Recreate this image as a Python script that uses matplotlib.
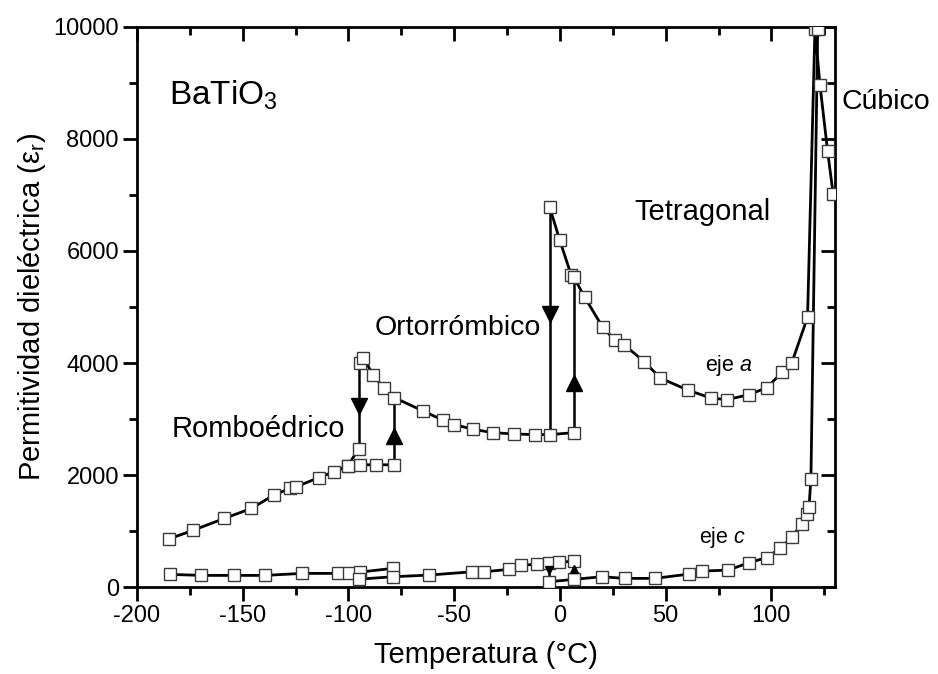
import matplotlib
matplotlib.use("Agg")
import matplotlib.pyplot as plt
from matplotlib.ticker import MultipleLocator
from matplotlib import markers as mmarkers

plt.rcParams['font.family'] = ['Liberation Sans', 'DejaVu Sans']
plt.rcParams['mathtext.fontset'] = 'custom'
plt.rcParams['mathtext.rm'] = 'Liberation Sans'
plt.rcParams['mathtext.it'] = 'Liberation Sans:italic'
plt.rcParams['axes.unicode_minus'] = False

# ---- eje a ----
# rhombohedral phase, heating branch (ends at the R -> O jump)
a_rh_T = [-184.8, -173.7, -158.8, -145.9, -135.4, -127.8, -124.7, -114.0, -107.0,
          -100.3, -94.5, -86.9, -78.3]
a_rh_e = [860, 1010, 1224, 1403, 1640, 1760, 1790, 1955, 2055, 2162, 2183, 2183, 2183]
# rhombohedral phase, cooling end
a_rc_T = [-100.3, -95.1]
a_rc_e = [2162, 2472]
# orthorhombic phase
a_or_T = [-94.5, -92.9, -88.2, -83.3, -78.3, -64.6, -55.2, -50.0, -40.9, -31.7,
          -21.6, -11.8, -4.6, 6.6]
a_or_e = [4000, 4094, 3779, 3553, 3381, 3143, 2977, 2900, 2816, 2757, 2733, 2722,
          2722, 2757]
# tetragonal + cubic phases
a_te_T = [-4.9, -0.1, 5.3, 6.6, 11.8, 20.2, 25.9, 30.2, 40.0, 47.5, 60.8, 71.5,
          78.9, 89.5, 97.8, 105.2, 109.6, 117.1, 120.6, 123.0, 126.6, 129.2]
a_te_e = [6791, 6197, 5573, 5531, 5170, 4640, 4410, 4330, 4020, 3731, 3512, 3374,
          3346, 3435, 3560, 3838, 3998, 4818, 9960, 8960, 7777, 7018]

# ---- eje c ----
c_rh_T = [-184.4, -169.5, -154.2, -139.6, -121.8, -105.0, -99.5, -94.5, -79.1]
c_rh_e = [226, 208, 208, 208, 244, 244, 244, 267, 333]
c_or_T = [-95.0, -79.1, -61.8, -41.4, -35.8, -24.0, -18.5, -10.8, -5.0, -0.5, 6.6]
c_or_e = [140, 184, 214, 273, 273, 316, 385, 410, 433, 440, 463]
c_te_T = [-5.2, 6.6, 19.7, 30.7, 44.8, 61.2, 67.1, 79.7, 89.2, 97.8, 104.2, 109.6,
          114.3, 116.7, 117.8, 118.7, 121.9]
c_te_e = [94, 137, 184, 155, 155, 232, 285, 303, 433, 525, 690, 886, 1123, 1313,
          1431, 1937, 9960]

# vertical transition jumps: (T, from, to)
jumps = [(-78.3, 2183, 3381), (-95.1, 2472, 4000), (-4.8, 2722, 6791),
         (6.6, 2757, 5531), (-79.1, 184, 333), (-95.0, 140, 267),
         (-5.1, 94, 433), (6.6, 137, 463)]
# arrow heads on the jumps: (T, eps, direction)
arrows = [(-78.3, 2700, '^'), (-95.0, 3230, 'v'), (-4.8, 4880, 'v'),
          (6.6, 3640, '^')]
small_arrows = [(-5.1, 300, 'v'), (6.6, 330, '^')]

series = [(a_rh_T, a_rh_e), (a_rc_T, a_rc_e), (a_or_T, a_or_e), (a_te_T, a_te_e),
          (c_rh_T, c_rh_e), (c_or_T, c_or_e), (c_te_T, c_te_e)]

fig = plt.figure(figsize=(9.38, 6.74), dpi=100)
ax = fig.add_axes([0.146, 0.129, 0.744, 0.831])

line_kw = dict(color='black', lw=2.0, zorder=2)
mk_kw = dict(marker='s', ms=8.3, mfc='white', mec='#3a3a3a', mew=1.0, zorder=3)

for T, e in series:
    ax.plot(T, e, '-', **line_kw)

for T, lo, hi in jumps:
    ax.plot([T, T], [lo, hi], color='black', lw=1.8, zorder=2)

for T, e in series:
    ax.plot(T, e, linestyle='none', **mk_kw)

for T, e, m in arrows:
    ax.plot([T], [e], marker=m, ms=12, color='black', zorder=4)
for T, e, m in small_arrows:
    ax.plot([T], [e], marker=m, ms=6, color='black', zorder=4)

ax.set_xlim(-200, 130)
ax.set_ylim(0, 10000)
ax.xaxis.set_major_locator(MultipleLocator(50))
ax.xaxis.set_minor_locator(MultipleLocator(25))
ax.yaxis.set_major_locator(MultipleLocator(2000))
ax.yaxis.set_minor_locator(MultipleLocator(1000))
ax.tick_params(which='both', top=True, right=True, width=2, direction='out')
ax.tick_params(which='major', length=10, labelsize=17)
ax.tick_params(which='minor', length=6)
ax.tick_params(axis='x', which='major', pad=3)
ax.tick_params(axis='y', which='major', pad=3)
# top and right ticks point inward
for t in ax.xaxis.get_major_ticks() + ax.xaxis.get_minor_ticks():
    t.tick2line.set_marker(mmarkers.TICKDOWN)
for t in ax.yaxis.get_major_ticks() + ax.yaxis.get_minor_ticks():
    t.tick2line.set_marker(mmarkers.TICKLEFT)
for s in ax.spines.values():
    s.set_linewidth(2)

ax.set_xlabel('Temperatura (°C)', fontsize=21, labelpad=10)
ax.set_ylabel(r'Permitividad dieléctrica ($\mathregular{\varepsilon_r}$)', fontsize=21, labelpad=4)

ax.text(-185, 8780, r'BaTiO$_\mathregular{3}$', fontsize=24, va='center', ha='left')
ax.text(133, 8660, 'Cúbico', fontsize=20.5, va='center', ha='left', clip_on=False)
ax.text(35.4, 6690, 'Tetragonal', fontsize=21, va='center', ha='left')
ax.text(-87.7, 4620, 'Ortorrómbico', fontsize=20.5, va='center', ha='left')
ax.text(-183.5, 2830, 'Romboédrico', fontsize=21, va='center', ha='left')
ax.text(68.4, 3960, r'eje $\mathit{a}$', fontsize=15.5, va='center', ha='left')
ax.text(65.6, 880, r'eje $\mathit{c}$', fontsize=15.5, va='center', ha='left')

fig.savefig('out.png', dpi=100)
